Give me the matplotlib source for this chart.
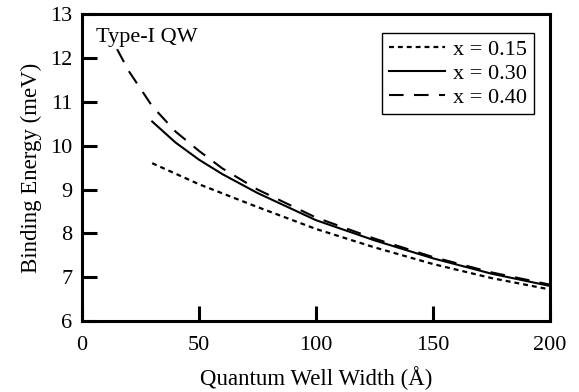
import matplotlib
matplotlib.use("Agg")
import matplotlib.pyplot as plt

plt.rcParams['font.family'] = ['Liberation Serif', 'DejaVu Serif']

# binding energy curves
w_015 = [30, 50, 75, 100, 125, 150, 175, 200]
e_015 = [9.6, 9.12, 8.6, 8.1, 7.68, 7.3, 6.98, 6.72]

w_030 = [30, 40, 50, 60, 75, 100, 125, 150, 175, 200]
e_030 = [10.55, 10.07, 9.68, 9.35, 8.92, 8.3, 7.84, 7.43, 7.08, 6.8]

w_040 = [15, 20, 25, 30, 40, 50, 60, 75, 100, 125, 150, 175, 200]
e_040 = [12.2, 11.7, 11.3, 10.9, 10.32, 9.88, 9.48, 9.0, 8.36, 7.88, 7.46, 7.11, 6.83]

x_ticks = [0, 50, 100, 150, 200]
y_ticks = [6, 7, 8, 9, 10, 11, 12, 13]

fig = plt.figure(figsize=(5.79, 3.92), dpi=100)
ax = fig.add_axes([0.1416, 0.181, 0.8084, 0.783])

ax.plot(w_015, e_015, color='black', lw=1.6, linestyle=(0, (2.2, 1.8)), label='x = 0.15')
ax.plot(w_030, e_030, color='black', lw=1.5, linestyle='-', label='x = 0.30')
ax.plot(w_040, e_040, color='black', lw=1.5, linestyle=(0, (7, 5)), label='x = 0.40')

ax.set_xlim(0, 200)
ax.set_ylim(6, 13)
ax.set_xticks(x_ticks)
ax.set_yticks(y_ticks)
ax.tick_params(direction='in', length=11, width=2.2, labelsize=16,
               top=False, right=False)
ax.tick_params(axis='x', pad=11)
ax.tick_params(axis='y', pad=7)
for s in ax.spines.values():
    s.set_linewidth(2.2)

ax.set_xlabel('Quantum Well Width (Å)', fontsize=16.5, labelpad=8)
ax.set_ylabel('Binding Energy (meV)', fontsize=16.5, labelpad=6)

ax.text(0.03, 0.955, 'Type-I QW', transform=ax.transAxes, fontsize=16,
        va='top', ha='left')

leg = ax.legend(loc='upper right', bbox_to_anchor=(0.966, 0.94), borderaxespad=0,
                fontsize=16, fancybox=False, framealpha=1, edgecolor='black',
                handlelength=2.5, handletextpad=0.4, labelspacing=0.15,
                borderpad=0.3)
leg.get_frame().set_linewidth(1.0)

fig.savefig('out.png', dpi=100)
